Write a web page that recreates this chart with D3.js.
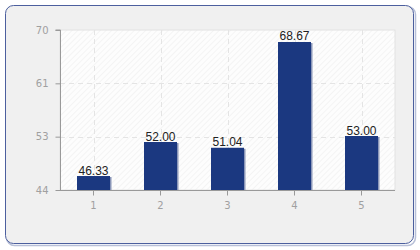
<!DOCTYPE html>
<html><head><meta charset="utf-8">
<script src="https://cdn.jsdelivr.net/npm/d3@7"></script>
<style>body{margin:0;background:#fff}svg{display:block}</style>
</head><body>
<svg id="c" width="420" height="250"></svg>
<script>
const categories = ["1","2","3","4","5"];
const values = [46.33, 52.00, 51.04, 68.67, 53.00];
const valueLabels = ["46.33","52.00","51.04","68.67","53.00"];
const yTickValues = [44, 52.89, 61.78, 70.67];
const yTickLabels = ["44","53","61","70"];

const svg = d3.select("#c");
const defs = svg.append("defs");
const pat = defs.append("pattern").attr("id","hatch").attr("width",4).attr("height",4)
  .attr("patternUnits","userSpaceOnUse").attr("patternTransform","rotate(45)");
pat.append("rect").attr("width",4).attr("height",4).attr("fill","#fdfdfd");
pat.append("line").attr("x1",0).attr("y1",0).attr("x2",0).attr("y2",4).attr("stroke","#eeeeee").attr("stroke-width",1.2);

// outer panel
svg.append("rect").attr("x",6.5).attr("y",6.5).attr("width",409).attr("height",239).attr("rx",8)
  .attr("fill","none").attr("stroke","#b8c0d8").attr("stroke-width",1.5);
svg.append("rect").attr("x",5.5).attr("y",5.5).attr("width",408).attr("height",238).attr("rx",8)
  .attr("fill","#f0f0f0").attr("stroke","#4c5f9e").attr("stroke-width",1);

const m = {l:60, r:395, t:30, b:190};
const x = d3.scaleBand().domain(categories).range([m.l, m.r]).paddingInner(0).paddingOuter(0);
const y = d3.scaleLinear().domain([44, 70.67]).range([m.b, m.t]);

svg.append("rect").attr("x",m.l).attr("y",m.t).attr("width",m.r-m.l).attr("height",m.b-m.t)
  .attr("fill","url(#hatch)").attr("stroke","#e2e2e2");

const g = svg.append("g");
// grid
g.selectAll(".hg").data(yTickValues.slice(1,3)).join("line")
  .attr("x1",m.l).attr("x2",m.r).attr("y1",d=>Math.round(y(d))+0.5).attr("y2",d=>Math.round(y(d))+0.5)
  .attr("stroke","#e4e4e4").attr("stroke-dasharray","5,4");
g.selectAll(".vg").data(categories).join("line")
  .attr("x1",d=>Math.round(x(d)+x.bandwidth()/2)+0.5).attr("x2",d=>Math.round(x(d)+x.bandwidth()/2)+0.5)
  .attr("y1",m.t).attr("y2",m.b)
  .attr("stroke","#e4e4e4").attr("stroke-dasharray","5,4");

const bw = 33;
// shadow
g.selectAll(".sh").data(values).join("rect")
  .attr("x",(d,i)=>x(categories[i])+x.bandwidth()/2-bw/2+1.5)
  .attr("y",d=>y(d)+1).attr("width",bw).attr("height",d=>m.b-y(d)-1)
  .attr("fill","#8a96b8");
g.selectAll(".bar").data(values).join("rect")
  .attr("x",(d,i)=>x(categories[i])+x.bandwidth()/2-bw/2)
  .attr("y",d=>y(d)).attr("width",bw).attr("height",d=>m.b-y(d))
  .attr("fill","#1b3880");
g.selectAll(".vl").data(values).join("text")
  .attr("x",(d,i)=>x(categories[i])+x.bandwidth()/2).attr("y",d=>y(d)-1.5)
  .attr("text-anchor","middle").attr("font-family","Liberation Sans Narrow, Liberation Sans, sans-serif").attr("font-size",12)
  .attr("fill","#222").text((d,i)=>valueLabels[i]);

// axes
const ya = d3.axisLeft(y).tickValues(yTickValues).tickFormat((d,i)=>yTickLabels[i]).tickSize(5).tickPadding(7);
const yg = svg.append("g").attr("transform",`translate(${m.l+0.5},0)`).call(ya);
yg.select(".domain").attr("stroke","#999").attr("d",`M-5,${m.t}H0V${m.b}`);
yg.selectAll(".tick line").attr("stroke","#999");
yg.selectAll("text").attr("fill","#a0a0a0").attr("font-size",10).attr("font-family","DejaVu Sans, Verdana, sans-serif");

const xa = d3.axisBottom(x).tickSize(5).tickPadding(6);
const xg = svg.append("g").attr("transform",`translate(0,${m.b+0.5})`).call(xa);
xg.select(".domain").attr("stroke","#999").attr("d",`M${m.l},0H${m.r}`);
xg.selectAll(".tick line").attr("stroke","#999");
xg.selectAll("text").attr("fill","#a0a0a0").attr("font-size",10).attr("font-family","DejaVu Sans, Verdana, sans-serif");
</script>
</body></html>
